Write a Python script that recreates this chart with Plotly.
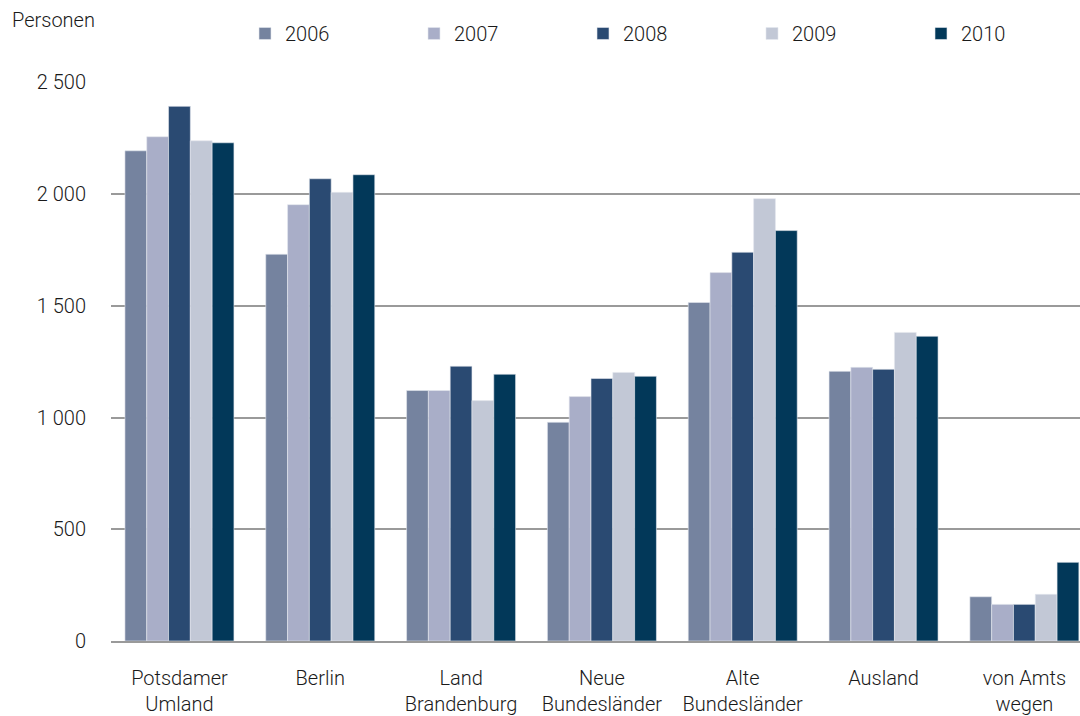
import plotly.graph_objects as go

# Herkunftsgebiete (x-axis groups)
categories = [
    "Potsdamer<br>Umland",
    "Berlin",
    "Land<br>Brandenburg",
    "Neue<br>Bundesländer",
    "Alte<br>Bundesländer",
    "Ausland",
    "von Amts<br>wegen",
]

years = ["2006", "2007", "2008", "2009", "2010"]

# Zuzüge nach Herkunft, Personen je Jahr
v2006 = [2194, 1731, 1121, 979, 1515, 1207, 198]
v2007 = [2257, 1953, 1121, 1094, 1649, 1225, 164]
v2008 = [2393, 2069, 1230, 1175, 1740, 1216, 164]
v2009 = [2239, 2008, 1076, 1202, 1980, 1381, 209]
v2010 = [2230, 2087, 1194, 1185, 1837, 1364, 352]

series = [v2006, v2007, v2008, v2009, v2010]
colors = ["#75839f", "#a9aec8", "#2a4a72", "#c2c8d6", "#023859"]

FONT = dict(family="Roboto, Liberation Sans, sans-serif", size=20, color="#1a1a1a", weight=300)

fig = go.Figure()
for year, vals, col in zip(years, series, colors):
    fig.add_trace(go.Bar(
        name=year,
        x=categories,
        y=vals,
        marker=dict(color=col, line=dict(color="#e4e7ef", width=0.6)),
    ))

fig.update_layout(
    width=1080,
    height=716,
    margin=dict(l=111, r=0, t=82, b=75, autoexpand=False),
    paper_bgcolor="white",
    plot_bgcolor="white",
    barmode="group",
    bargap=0.226,
    bargroupgap=0,
    separators=", ",
    font=FONT,
    showlegend=True,
    legend=dict(
        orientation="h",
        x=0.1383,
        y=1.0868,
        xanchor="left",
        yanchor="middle",
        entrywidth=124,
        entrywidthmode="pixels",
        itemwidth=30,
        font=FONT,
        bgcolor="rgba(0,0,0,0)",
    ),
    annotations=[
        dict(
            text="Personen",
            x=-0.1042,
            y=1.111,
            xref="paper",
            yref="paper",
            xanchor="left",
            yanchor="middle",
            showarrow=False,
            font=FONT,
        )
    ],
)

# the last category group runs slightly past the right edge of the plot
fig.update_xaxes(
    range=[-0.486, 6.395],
    showgrid=False,
    showline=True,
    linecolor="#9a9a9a",
    linewidth=2,
    ticks="",
    tickfont=FONT,
    ticklabelstandoff=18,
)

fig.update_yaxes(
    range=[0, 2502],
    tickvals=[0, 500, 1000, 1500, 2000, 2500],
    tickformat=",d",
    showgrid=True,
    gridcolor="#9a9a9a",
    gridwidth=2,
    zeroline=False,
    showline=False,
    ticks="",
    tickfont=FONT,
    ticklabelstandoff=24,
)

fig.write_html("out.html")
